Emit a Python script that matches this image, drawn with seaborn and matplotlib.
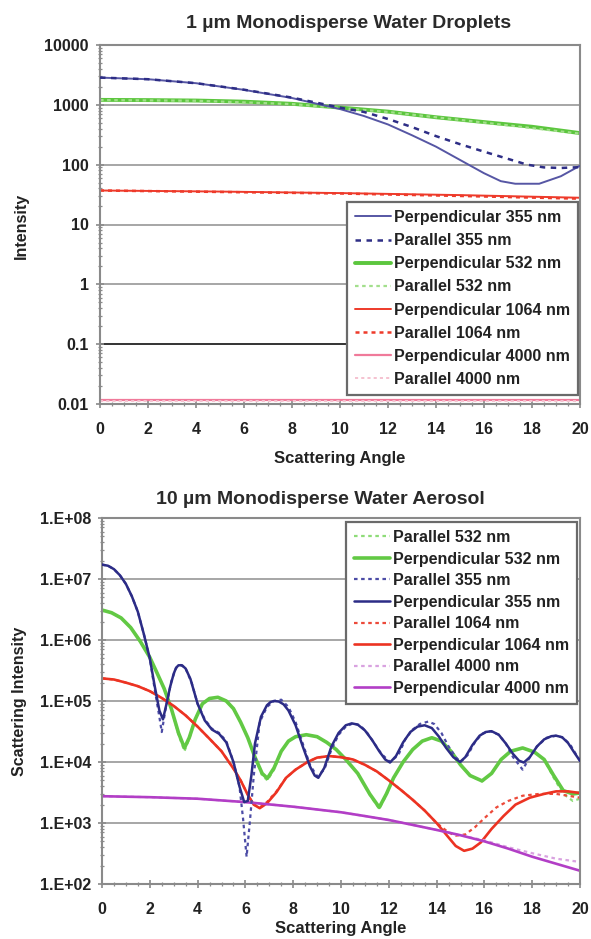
import numpy as np
import pandas as pd
import matplotlib
matplotlib.use("Agg")
import matplotlib.pyplot as plt
import seaborn as sns
from matplotlib.ticker import FixedLocator, FuncFormatter, MultipleLocator, LogLocator, NullFormatter

# ---------------- data: top chart (1 um droplets) ----------------
top_perp355_x = [0, 2, 4, 6, 8, 9, 10, 11, 12, 13, 14, 15, 16, 16.7, 17.3, 18.3, 19.2, 20]
top_perp355_y = [2850, 2680, 2300, 1780, 1300, 1050, 850, 650, 470, 310, 200, 120, 72, 53, 48, 48, 64, 96]
top_par355_x = [0, 2, 4, 6, 8, 10, 11, 12, 13, 14, 15, 16, 17, 17.8, 18.5, 19.2, 20]
top_par355_y = [2850, 2680, 2300, 1790, 1320, 900, 760, 580, 425, 300, 220, 165, 125, 100, 90, 88, 91]
top_perp532_x = [0, 2, 4, 6, 8, 10, 12, 14, 16, 18, 20]
top_perp532_y = [1210, 1200, 1180, 1130, 1040, 900, 770, 620, 515, 430, 337]
top_par532_x = [0, 4, 8, 12, 16, 20]
top_par532_y = [1200, 1170, 1030, 760, 505, 330]
top_perp1064_x = [0, 5, 10, 15, 20]
top_perp1064_y = [37, 35.5, 33.5, 31, 28]
top_par1064_x = [0, 5, 10, 15, 20]
top_par1064_y = [37, 35, 33, 30, 27]
top_perp4000_x = [0, 10, 20]
top_perp4000_y = [0.0118, 0.0118, 0.0118]
top_par4000_x = [0, 10, 20]
top_par4000_y = [0.0112, 0.0112, 0.0112]

top_ticks = [0.01, 0.1, 1, 10, 100, 1000, 10000]
top_ticklabels = ["0.01", "0.1", "1", "10", "100", "1000", "10000"]

# ---------------- data: bottom chart (10 um aerosol) ----------------
bot_perp355_x = [0, 0.25, 0.5, 0.75, 1.0, 1.25, 1.5, 1.75, 2.0, 2.2, 2.4, 2.55, 2.7, 2.85, 3.0, 3.1,
                 3.2, 3.35, 3.5, 3.7, 4.0, 4.3, 4.6, 4.9, 5.2, 5.5, 5.75, 5.95, 6.1, 6.25, 6.4, 6.65,
                 6.9, 7.05, 7.2, 7.4, 7.6, 7.8, 8.1, 8.4, 8.7, 8.9, 9.05, 9.3, 9.6, 9.9, 10.2, 10.45,
                 10.7, 11.0, 11.3, 11.6, 11.85, 12.05, 12.3, 12.6, 12.9, 13.2, 13.5, 13.8, 14.1, 14.4,
                 14.7, 14.98, 15.2, 15.5, 15.8, 16.05, 16.3, 16.6, 16.9, 17.2, 17.45, 17.65, 17.9,
                 18.2, 18.5, 18.8, 19.0, 19.25, 19.5, 19.75, 20]
bot_perp355_y = [1.72e7, 1.65e7, 1.45e7, 1.15e7, 8.3e6, 5.2e6, 2.9e6, 1.25e6, 5e5, 1.8e5, 7e4, 5e4, 9e4,
                 1.7e5, 2.8e5, 3.5e5, 3.85e5, 3.85e5, 3.4e5, 2.3e5, 9e4, 4.8e4, 3.4e4, 2.9e4, 2.1e4,
                 1e4, 4e3, 2.2e3, 2.3e3, 6e3, 2e4, 5.5e4, 8.5e4, 9.6e4, 1e5, 9.8e4, 8.8e4, 7e4, 4e4,
                 1.8e4, 8.5e3, 6e3, 5.5e3, 8e3, 1.8e4, 3e4, 4e4, 4.3e4, 4.1e4, 3.3e4, 2.3e4, 1.5e4,
                 1.1e4, 9.8e3, 1.25e4, 2.1e4, 3.1e4, 3.8e4, 4e4, 3.6e4, 2.6e4, 1.7e4, 1.2e4, 1e4,
                 1.2e4, 1.9e4, 2.7e4, 3.1e4, 3.2e4, 2.8e4, 2e4, 1.35e4, 1.05e4, 9.8e3, 1.2e4, 1.8e4,
                 2.35e4, 2.65e4, 2.7e4, 2.55e4, 2.05e4, 1.45e4, 1.04e4]
bot_par355_x = [0, 0.25, 0.5, 0.75, 1.0, 1.25, 1.5, 1.75, 2.0, 2.2, 2.4, 2.5, 2.65, 2.9, 3.1, 3.3,
                3.5, 3.75, 4.0, 4.3, 4.6, 4.9, 5.2, 5.5, 5.75, 5.9, 6.05, 6.2, 6.35, 6.6, 6.9, 7.2,
                7.5, 7.8, 8.1, 8.4, 8.7, 9.0, 9.3, 9.6, 9.9, 10.2, 10.5, 10.8, 11.1, 11.4, 11.7,
                12.05, 12.4, 12.7, 13.0, 13.3, 13.65, 13.9, 14.2, 14.5, 14.8, 15.0, 15.3, 15.6,
                15.9, 16.25, 16.6, 16.9, 17.2, 17.6, 17.9, 18.2, 18.6, 19.0, 19.3, 19.6, 19.85, 20]
bot_par355_y = [1.72e7, 1.65e7, 1.45e7, 1.15e7, 8.3e6, 5.2e6, 2.9e6, 1.25e6, 5e5, 1.6e5, 5.5e4, 3.1e4,
                7e4, 2.1e5, 3.5e5, 3.9e5, 3.4e5, 2e5, 9e4, 5e4, 3.5e4, 3e4, 2.2e4, 1e4, 4e3, 1.2e3,
                2.8e2, 1.2e3, 6e3, 4.5e4, 8e4, 1e5, 1.05e5, 8e4, 4.5e4, 2e4, 9e3, 5.8e3, 7.5e3, 1.6e4,
                2.8e4, 3.8e4, 4.3e4, 4e4, 3e4, 2e4, 1.35e4, 1e4, 1.3e4, 2.4e4, 3.4e4, 4.2e4, 4.6e4,
                4.2e4, 3e4, 1.8e4, 1.2e4, 1e4, 1.3e4, 2.1e4, 2.9e4, 3.2e4, 2.8e4, 2e4, 1.2e4,
                7.5e3, 1.2e4, 1.8e4, 2.5e4, 2.7e4, 2.5e4, 1.9e4, 1.3e4, 1.05e4]
bot_perp532_x = [0, 0.4, 0.8, 1.2, 1.6, 2.0, 2.3, 2.6, 2.9, 3.2, 3.45, 3.65, 3.9, 4.2, 4.5, 4.85,
                 5.2, 5.5, 5.8, 6.1, 6.4, 6.7, 6.92, 7.2, 7.5, 7.8, 8.1, 8.55, 9.0, 9.4, 9.8, 10.2,
                 10.7, 11.2, 11.6, 11.9, 12.2, 12.6, 13.0, 13.4, 13.8, 14.2, 14.6, 15.0, 15.4, 15.9,
                 16.3, 16.7, 17.1, 17.6, 18.1, 18.5, 18.9, 19.3, 19.7, 20]
bot_perp532_y = [3.1e6, 2.8e6, 2.3e6, 1.6e6, 9.5e5, 5.2e5, 2.9e5, 1.6e5, 7.5e4, 3e4, 1.7e4, 2.5e4, 5e4,
                 9e4, 1.1e5, 1.15e5, 1e5, 7.5e4, 4.5e4, 2.5e4, 1.2e4, 6.5e3, 5.4e3, 8e3, 1.5e4, 2.2e4,
                 2.6e4, 2.8e4, 2.6e4, 2.1e4, 1.6e4, 1.1e4, 6.5e3, 3e3, 1.8e3, 3e3, 5.5e3, 1e4, 1.6e4,
                 2.2e4, 2.5e4, 2.2e4, 1.5e4, 9e3, 6e3, 4.9e3, 6.5e3, 1.1e4, 1.5e4, 1.7e4, 1.45e4,
                 1.1e4, 6e3, 3.4e3, 3e3, 3.1e3]
bot_par532_x = bot_perp532_x
bot_par532_y = [3.1e6, 2.8e6, 2.3e6, 1.6e6, 9.5e5, 5.2e5, 2.9e5, 1.6e5, 7.5e4, 2.8e4, 1.5e4, 2.4e4, 5e4,
                9e4, 1.1e5, 1.15e5, 1e5, 7.5e4, 4.5e4, 2.5e4, 1.2e4, 6e3, 5e3, 7.5e3, 1.5e4, 2.2e4,
                2.6e4, 2.8e4, 2.6e4, 2.1e4, 1.6e4, 1.1e4, 6.5e3, 2.9e3, 1.7e3, 2.9e3, 5.5e3, 1e4,
                1.6e4, 2.2e4, 2.5e4, 2.2e4, 1.5e4, 9e3, 6e3, 4.8e3, 6.5e3, 1.1e4, 1.5e4, 1.7e4,
                1.45e4, 1.1e4, 5.5e3, 3e3, 2.3e3, 2.5e3]
bot_perp1064_x = [0, 0.5, 1, 1.5, 2, 2.5, 3, 3.5, 4, 4.5, 5, 5.5, 5.8, 6.1, 6.35, 6.6, 6.9, 7.3, 7.7,
                  8.1, 8.6, 9.0, 9.5, 10.0, 10.5, 11.0, 11.5, 12.0, 12.5, 13.0, 13.5, 14.0, 14.5,
                  14.8, 15.15, 15.5, 15.85, 16.3, 16.8, 17.3, 17.9, 18.5, 19.0, 19.5, 20]
bot_perp1064_y = [2.35e5, 2.25e5, 2e5, 1.75e5, 1.45e5, 1.12e5, 8.3e4, 5.8e4, 3.8e4, 2.4e4, 1.5e4, 7.8e3,
                  5e3, 2.9e3, 2e3, 1.75e3, 2.1e3, 3.2e3, 5.5e3, 7.5e3, 1e4, 1.18e4, 1.25e4, 1.2e4,
                  1.1e4, 9e3, 7e3, 5e3, 3.5e3, 2.4e3, 1.6e3, 1e3, 5.8e2, 4.2e2, 3.5e2, 3.8e2, 4.8e2,
                  8e2, 1.3e3, 2e3, 2.6e3, 3e3, 3.3e3, 3.3e3, 3.1e3]
bot_par1064_x = [0, 0.5, 1, 1.5, 2, 2.5, 3, 3.5, 4, 4.5, 5, 5.5, 5.8, 6.1, 6.35, 6.6, 6.9, 7.3, 7.7,
                 8.1, 8.6, 9.0, 9.5, 10.0, 10.5, 11.0, 11.5, 12.0, 12.5, 13.0, 13.5, 14.0, 14.5,
                 14.8, 15.2, 15.6, 16.0, 16.5, 17.0, 17.6, 18.3, 19.0, 19.5, 20]
bot_par1064_y = [2.35e5, 2.25e5, 2e5, 1.75e5, 1.45e5, 1.12e5, 8.3e4, 5.8e4, 3.8e4, 2.4e4, 1.5e4, 7.8e3,
                 5e3, 2.9e3, 2e3, 1.8e3, 2.2e3, 3.3e3, 5.5e3, 7.5e3, 1e4, 1.18e4, 1.25e4, 1.2e4,
                 1.1e4, 9e3, 7e3, 5e3, 3.5e3, 2.4e3, 1.6e3, 1e3, 7e2, 6.2e2, 6.5e2, 8.5e2, 1.2e3,
                 1.8e3, 2.3e3, 2.8e3, 3e3, 3e3, 2.8e3, 2.6e3]
bot_perp4000_x = [0, 2, 4, 6, 8, 10, 11, 12, 13, 14, 15, 16, 17, 18, 19, 20]
bot_perp4000_y = [2.75e3, 2.65e3, 2.5e3, 2.2e3, 1.85e3, 1.5e3, 1.3e3, 1.12e3, 9.3e2, 7.7e2, 6.3e2,
                  5e2, 3.8e2, 2.8e2, 2.15e2, 1.65e2]
bot_par4000_x = [0, 2, 4, 6, 8, 10, 11, 12, 13, 14, 15, 16, 17, 18, 19, 20]
bot_par4000_y = [2.75e3, 2.65e3, 2.5e3, 2.2e3, 1.85e3, 1.5e3, 1.3e3, 1.12e3, 9.3e2, 7.7e2, 6.3e2,
                 5.2e2, 4e2, 3.2e2, 2.6e2, 2.3e2]

bot_ticks = [1e2, 1e3, 1e4, 1e5, 1e6, 1e7, 1e8]
bot_ticklabels = ["1.E+02", "1.E+03", "1.E+04", "1.E+05", "1.E+06", "1.E+07", "1.E+08"]

x_ticks = [0, 2, 4, 6, 8, 10, 12, 14, 16, 18, 20]

# ---------------- style ----------------
sns.set_theme(style="white")
plt.rcParams["font.family"] = ["Liberation Sans", "DejaVu Sans"]
plt.rcParams["font.weight"] = "bold"
plt.rcParams["axes.labelweight"] = "bold"
TXT = "#222222"
SPINE = "#8a8a8a"
DOT = (0, (1.6, 1.6))

fig = plt.figure(figsize=(5.91, 9.39), dpi=100)
ax1 = fig.add_axes([100 / 591, 1 - 404 / 939, 480 / 591, 359 / 939])
ax2 = fig.add_axes([102 / 591, 1 - 884 / 939, 478 / 591, 366 / 939])


def draw(ax, x, y, color, lw, label, ls="-", z=2):
    sns.lineplot(x=x, y=y, ax=ax, color=color, linewidth=lw, label=label,
                 sort=False, estimator=None, zorder=z)
    ln = ax.lines[-1]
    ln.set_linestyle(ls)
    return ln


def style_axes(ax, ticks, ticklabels, ylim):
    ax.set_yscale("log")
    ax.set_xlim(0, 20)
    ax.set_ylim(*ylim)
    ax.yaxis.set_major_locator(FixedLocator(ticks))
    ax.yaxis.set_major_formatter(FuncFormatter(
        lambda v, p: ticklabels[int(np.argmin([abs(np.log10(t) - np.log10(v)) for t in ticks]))]))
    ax.yaxis.set_minor_locator(LogLocator(base=10, subs=np.arange(2, 10)))
    ax.yaxis.set_minor_formatter(NullFormatter())
    ax.xaxis.set_major_locator(FixedLocator(x_ticks))
    ax.xaxis.set_minor_locator(MultipleLocator(0.5))
    ax.set_axisbelow(True)
    ax.yaxis.grid(True, which="major", color="#a6a6a6", linewidth=1.4)
    ax.xaxis.grid(False)
    for s in ax.spines.values():
        s.set_visible(True)
        s.set_color(SPINE)
        s.set_linewidth(1.5)
    ax.tick_params(axis="both", which="major", direction="inout", length=6, width=1.2,
                   color=SPINE, labelsize=11.5, labelcolor=TXT)
    ax.tick_params(axis="both", which="minor", direction="inout", length=3.5, width=0.9,
                   color=SPINE)
    ax.tick_params(axis="y", which="both", left=True, right=False)
    ax.tick_params(axis="x", which="both", bottom=True, top=False)
    ax.tick_params(axis="x", which="major", pad=10)
    ax.tick_params(axis="y", which="major", pad=5)
    for t in ax.get_xticklabels() + ax.get_yticklabels():
        t.set_fontweight("bold")


# ---------------- top chart ----------------
draw(ax1, top_perp355_x, top_perp355_y, "#5656a4", 1.4, "Perpendicular 355 nm", "-", 3)
draw(ax1, top_par355_x, top_par355_y, "#2e2e86", 1.8, "Parallel 355 nm", (0, (2.2, 2.2)), 3)
draw(ax1, top_perp532_x, top_perp532_y, "#5cc63e", 2.8, "Perpendicular 532 nm", "-", 2)
draw(ax1, top_par532_x, top_par532_y, "#a3df8c", 1.6, "Parallel 532 nm", DOT, 2)
draw(ax1, top_perp1064_x, top_perp1064_y, "#ee3a2a", 1.4, "Perpendicular 1064 nm", "-", 2)
draw(ax1, top_par1064_x, top_par1064_y, "#ee3a2a", 1.8, "Parallel 1064 nm", DOT, 2)
draw(ax1, top_perp4000_x, top_perp4000_y, "#f07a9a", 1.6, "Perpendicular 4000 nm", "-", 2)
draw(ax1, top_par4000_x, top_par4000_y, "#f5c2d0", 1.4, "Parallel 4000 nm", DOT, 2)
style_axes(ax1, top_ticks, top_ticklabels, (0.01, 10000))
gl = ax1.yaxis.get_gridlines()
if len(gl) > 1:
    gl[1].set_color("#333333")

# ---------------- bottom chart ----------------
draw(ax2, bot_par532_x, bot_par532_y, "#8edc78", 1.6, "Parallel 532 nm", DOT, 2)
draw(ax2, bot_perp532_x, bot_perp532_y, "#62c944", 2.6, "Perpendicular 532 nm", "-", 2)
draw(ax2, bot_par355_x, bot_par355_y, "#4c4ca6", 1.6, "Parallel 355 nm", DOT, 3)
draw(ax2, bot_perp355_x, bot_perp355_y, "#2c2c86", 1.8, "Perpendicular 355 nm", "-", 3)
draw(ax2, bot_par1064_x, bot_par1064_y, "#ec4a3a", 1.6, "Parallel 1064 nm", DOT, 2)
draw(ax2, bot_perp1064_x, bot_perp1064_y, "#ec3322", 1.9, "Perpendicular 1064 nm", "-", 2)
draw(ax2, bot_par4000_x, bot_par4000_y, "#d9a2e0", 1.6, "Parallel 4000 nm", DOT, 2)
draw(ax2, bot_perp4000_x, bot_perp4000_y, "#b23ec6", 1.9, "Perpendicular 4000 nm", "-", 2)
style_axes(ax2, bot_ticks, bot_ticklabels, (1e2, 1e8))


def make_legend(ax, order, anchor, spacing):
    h, l = ax.get_legend_handles_labels()
    d = dict(zip(l, h))
    leg = ax.legend([d[k] for k in order], order, loc="upper right",
                    bbox_to_anchor=anchor, bbox_transform=fig.transFigure,
                    borderaxespad=0, frameon=True, fancybox=False, framealpha=1,
                    edgecolor="#6a6a6a", prop={"weight": "bold", "size": 11.5},
                    handlelength=2.3, handletextpad=0.15, labelspacing=spacing,
                    borderpad=0.5)
    leg.get_frame().set_linewidth(1.6)
    for t in leg.get_texts():
        t.set_color(TXT)
    return leg


make_legend(ax1, ["Perpendicular 355 nm", "Parallel 355 nm", "Perpendicular 532 nm",
                  "Parallel 532 nm", "Perpendicular 1064 nm", "Parallel 1064 nm",
                  "Perpendicular 4000 nm", "Parallel 4000 nm"],
            (578 / 591, 1 - 202 / 939), 0.51)
make_legend(ax2, ["Parallel 532 nm", "Perpendicular 532 nm", "Parallel 355 nm",
                  "Perpendicular 355 nm", "Parallel 1064 nm", "Perpendicular 1064 nm",
                  "Parallel 4000 nm", "Perpendicular 4000 nm"],
            (577 / 591, 1 - 522 / 939), 0.41)

# ---------------- labels and titles ----------------
ax1.set_xlabel("")
ax2.set_xlabel("")
ax1.set_ylabel("")
ax2.set_ylabel("")
fig.text(349 / 591, 1 - 23 / 939, "1 \u00b5m Monodisperse Water Droplets", ha="center", va="center",
         fontsize=14, fontweight="bold", color="#2a2a2a")
fig.text(320 / 591, 1 - 500 / 939, "10 \u00b5m Monodisperse Water Aerosol", ha="center", va="center",
         fontsize=14, fontweight="bold", color="#2a2a2a")
fig.text(340 / 591, 1 - 458 / 939, "Scattering Angle", ha="center", va="center",
         fontsize=12, fontweight="bold", color=TXT)
fig.text(341 / 591, 1 - 928 / 939, "Scattering Angle", ha="center", va="center",
         fontsize=12, fontweight="bold", color=TXT)
fig.text(21 / 591, 1 - 226 / 939, "Intensity", ha="center", va="center", rotation=90,
         fontsize=11.5, fontweight="bold", color=TXT)
fig.text(20 / 591, 1 - 701 / 939, "Scattering Intensity", ha="center", va="center", rotation=90,
         fontsize=11.5, fontweight="bold", color=TXT)

fig.savefig("out.png", dpi=100)
